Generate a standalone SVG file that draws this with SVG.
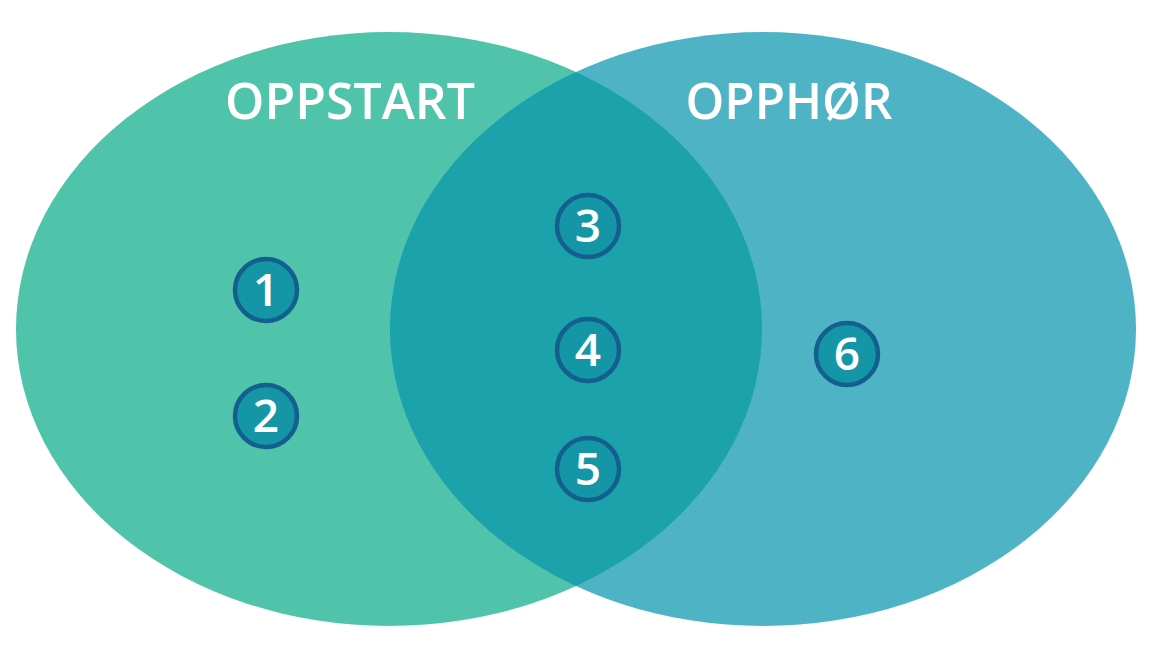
<svg xmlns="http://www.w3.org/2000/svg" width="1150" height="656" viewBox="0 0 1150 656">
<style>
.title{font-family:"Open Sans","Noto Sans",sans-serif;font-size:50px;font-weight:600;fill:#ffffff}
.badge circle{fill:#1596A6;stroke:#13608F;stroke-width:4.5}
.badge text{font-family:"Open Sans","Noto Sans",sans-serif;font-size:46px;font-weight:600;fill:#ffffff;text-anchor:middle}
</style>
<defs>
<clipPath id="clipL"><ellipse cx="389" cy="329" rx="373" ry="297"/></clipPath>
</defs>
<rect width="1150" height="656" fill="#ffffff"/>
<g id="set-oppstart">
<ellipse cx="389" cy="329" rx="373" ry="297" fill="#50C4AA"/>
</g>
<g id="set-opphor">
<ellipse cx="763" cy="329" rx="373" ry="297" fill="#4EB4C5"/>
</g>
<g id="intersection">
<ellipse cx="763" cy="329" rx="373" ry="297" fill="#1BA2AB" clip-path="url(#clipL)"/>
</g>
<g id="label-oppstart"><text class="title" x="350" y="119" text-anchor="middle" textLength="250" lengthAdjust="spacingAndGlyphs">OPPSTART</text></g>
<g id="label-opphor"><text class="title" x="789" y="119" text-anchor="middle" textLength="207" lengthAdjust="spacingAndGlyphs">OPPHØR</text></g>
<g id="connectors"></g>
<g id="n1" class="badge"><circle cx="266" cy="290" r="31"/><text x="266" y="306">1</text></g>
<g id="n2" class="badge"><circle cx="266" cy="416" r="31"/><text x="266" y="432">2</text></g>
<g id="n3" class="badge"><circle cx="588" cy="226" r="31"/><text x="588" y="242">3</text></g>
<g id="n4" class="badge"><circle cx="588" cy="350" r="31"/><text x="588" y="366">4</text></g>
<g id="n5" class="badge"><circle cx="588" cy="469" r="31"/><text x="588" y="485">5</text></g>
<g id="n6" class="badge"><circle cx="847" cy="354" r="31"/><text x="847" y="370">6</text></g>
</svg>
